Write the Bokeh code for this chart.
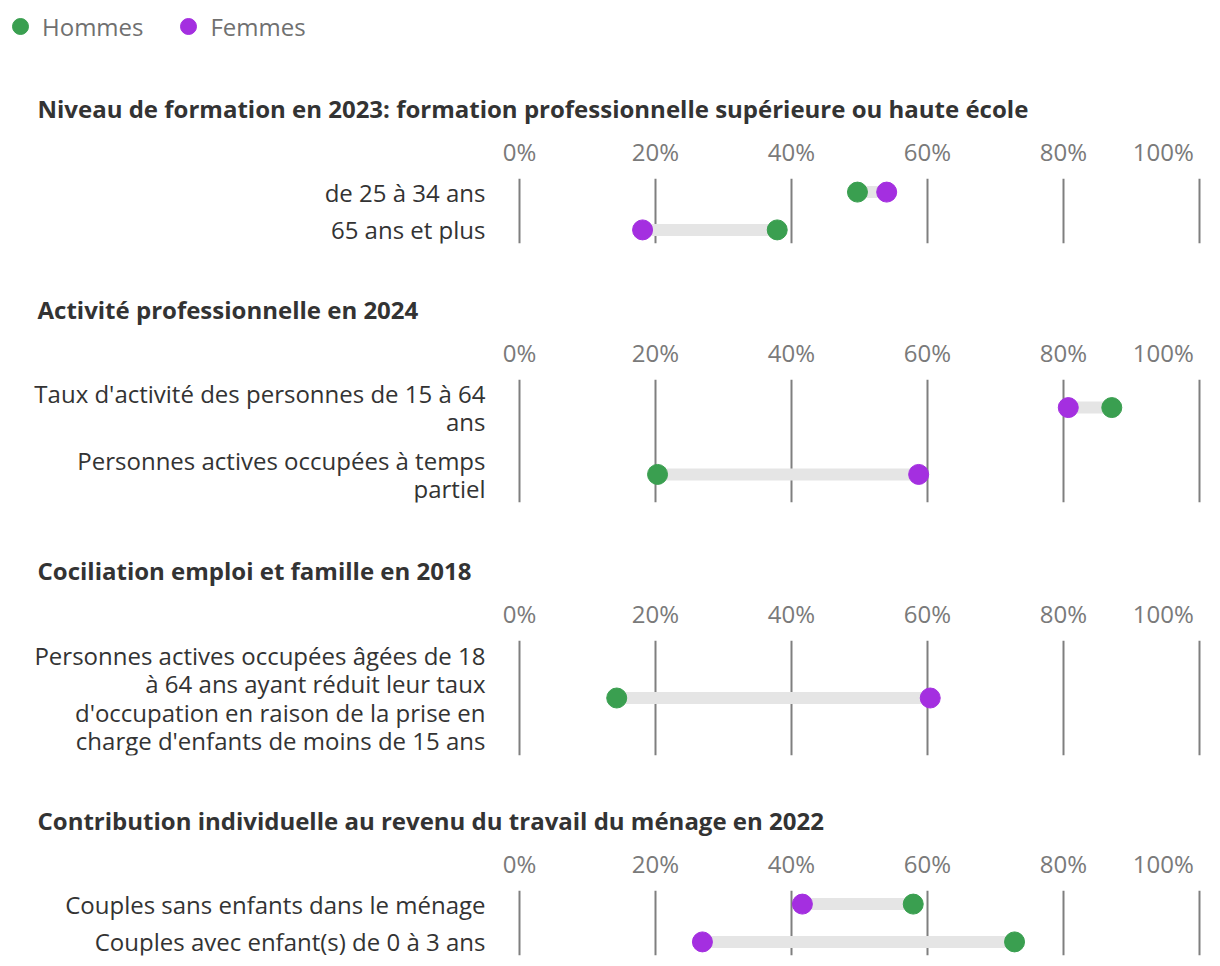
from bokeh.plotting import figure
from bokeh.models import FixedTicker, Range1d, ColumnDataSource, Legend, LegendItem
from bokeh.layouts import column
from bokeh.core.properties import value
from bokeh.embed import file_html
from bokeh.resources import INLINE

# ---------------- data ----------------
series_names = ["Hommes", "Femmes"]
series_colors = ["#3a9f50", "#a42fe0"]

section_titles = [
    "Niveau de formation en 2023: formation professionnelle supérieure ou haute école",
    "Activité professionnelle en 2024",
    "Cociliation emploi et famille en 2018",
    "Contribution individuelle au revenu du travail du ménage en 2022",
]

labels_1 = ["de 25 à 34 ans", "65 ans et plus"]
hommes_1 = [49.7, 37.9]
femmes_1 = [54.0, 18.1]

labels_2 = ["Taux d'activité des personnes de 15 à 64\nans",
            "Personnes actives occupées à temps\npartiel"]
hommes_2 = [87.1, 20.3]
femmes_2 = [80.7, 58.7]

labels_3 = ["Personnes actives occupées âgées de 18\nà 64 ans ayant réduit leur taux\n"
            "d'occupation en raison de la prise en\ncharge d'enfants de moins de 15 ans"]
hommes_3 = [14.3]
femmes_3 = [60.4]

labels_4 = ["Couples sans enfants dans le ménage", "Couples avec enfant(s) de 0 à 3 ans"]
hommes_4 = [57.9, 72.8]
femmes_4 = [41.6, 26.9]

tick_values = [0, 20, 40, 60, 80, 100]
tick_labels = ["0%", "20%", "40%", "60%", "80%", "100%"]

sections = [
    (labels_1, hommes_1, femmes_1),
    (labels_2, hommes_2, femmes_2),
    (labels_3, hommes_3, femmes_3),
    (labels_4, hommes_4, femmes_4),
]

# ---------------- layout ----------------
W = 1212
FONT = "Open Sans"
X_START, X_END = -76.32, 101.91
# per section: (fig height, min border top, min border bottom, y start, y end)
geom = [
    (211, 118, 28, 1.36, -0.36),
    (259, 108, 28, 1.42, -0.42),
    (253, 110, 28, 0.5, -0.5),
    (180, 107, 8, 1.36, -0.36),
]

figs = []

# legend figure (its renderers point at data that lies outside its own ranges,
# only the legend is visible)
leg_src = ColumnDataSource(dict(y=list(range(len(labels_1))), hommes=hommes_1, femmes=femmes_1))
lf = figure(width=W, height=60, output_backend="svg", toolbar_location=None,
            x_range=Range1d(-300, -299), y_range=Range1d(-300, -299),
            min_border_left=0, min_border_right=0, min_border_top=0, min_border_bottom=0,
            x_axis_location=None, y_axis_location=None, outline_line_color=None)
lf.grid.visible = False
items = []
for name, col, field in zip(series_names, series_colors, ["hommes", "femmes"]):
    r = lf.scatter(x=field, y="y", source=leg_src, size=16, color=col)
    items.append(LegendItem(label=name, renderers=[r]))
leg = Legend(items=items, orientation="horizontal", location=(0, 14),
             glyph_width=40, glyph_height=40, label_standoff=2, spacing=25,
             margin=0, padding=0, border_line_color=None, background_fill_alpha=0,
             label_text_font=FONT, label_text_font_size="24px", label_text_color="#707070")
lf.add_layout(leg, "center")
figs.append(lf)

for (labels, hom, fem), title, (h, bt, bb, y0, y1) in zip(sections, section_titles, geom):
    ys = list(range(len(labels)))
    src = ColumnDataSource(dict(y=ys, label=labels, hommes=hom, femmes=fem))
    p = figure(width=W, height=h, output_backend="svg", toolbar_location=None,
               x_range=Range1d(X_START, X_END), y_range=Range1d(y0, y1),
               x_axis_location="above", y_axis_location=None,
               min_border_left=0, min_border_right=0,
               min_border_top=bt, min_border_bottom=bb,
               outline_line_color=None)
    p.title.text = title
    p.title.text_font = FONT
    p.title.text_font_style = "bold"
    p.title.text_font_size = "24px"
    p.title.text_color = "#333333"
    p.title.align = "left"
    p.title.offset = 37
    p.title.standoff = 14

    ax = p.xaxis[0]
    ax.ticker = FixedTicker(ticks=tick_values)
    overrides = {v: t for v, t in zip(tick_values, tick_labels)}
    overrides[100] = "100%" + "\u00a0" * 3
    ax.major_label_overrides = overrides
    ax.axis_line_color = None
    ax.major_tick_line_color = None
    ax.minor_tick_line_color = None
    ax.major_tick_out = 0
    ax.major_label_standoff = 11
    ax.major_label_text_font = FONT
    ax.major_label_text_font_size = "24px"
    ax.major_label_text_color = "#7a7a7a"

    p.ygrid.visible = False
    p.xgrid.grid_line_color = "#7f7f7f"
    p.xgrid.grid_line_width = 2

    p.text(x=-5, y="y", text="label", source=src, text_align="right",
           text_baseline="middle", text_font=value(FONT), text_font_size="24px",
           text_color="#333333", text_line_height=0.865)
    p.segment(x0="hommes", x1="femmes", y0="y", y1="y", source=src,
              line_width=12, line_color="#e5e5e5")
    p.scatter(x="hommes", y="y", source=src, size=20, color=series_colors[0])
    p.scatter(x="femmes", y="y", source=src, size=20, color=series_colors[1])
    figs.append(p)

layout = column(*figs, spacing=0)
open("out.html", "w").write(file_html(layout, INLINE))
